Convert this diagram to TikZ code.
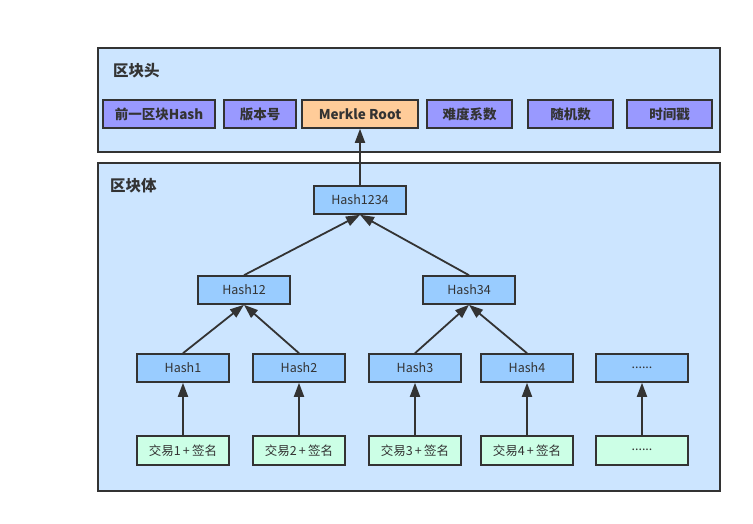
\documentclass[tikz,border=0pt]{standalone}
\usepackage{fontspec}
\setmainfont{Noto Sans CJK SC}
\usetikzlibrary{arrows.meta}
\definecolor{bgblue}{HTML}{CCE5FF}
\definecolor{hdrpurple}{HTML}{9999FF}
\definecolor{rootorange}{HTML}{FFCC99}
\definecolor{hashblue}{HTML}{99CCFF}
\definecolor{txgreen}{HTML}{CCFFE6}
\definecolor{edge}{HTML}{333333}
\tikzset{
  container/.style={draw=edge, line width=1.6pt, fill=bgblue, inner sep=0pt},
  hbox/.style={draw=edge, line width=1.6pt, fill=hdrpurple, inner sep=0pt, minimum height=28pt, font=\fontsize{13.5}{15}\selectfont\bfseries, text=edge},
  hashbox/.style={draw=edge, line width=1.6pt, fill=hashblue, inner sep=0pt, minimum width=92pt, minimum height=28pt, font=\fontsize{12.5}{14}\selectfont, text=edge},
  txbox/.style={draw=edge, line width=1.6pt, fill=txgreen, inner sep=0pt, minimum width=92pt, minimum height=29pt, font=\fontsize{12.5}{14}\selectfont, text=edge},
  title/.style={font=\fontsize{15.5}{18}\selectfont\bfseries, text=edge, anchor=west, inner sep=0pt},
  conn/.style={draw=edge, line width=1.8pt, -{Triangle[length=14pt,width=10pt]}},
}
\begin{document}
\begin{tikzpicture}[x=1pt,y=-1pt]
\useasboundingbox (0,0) rectangle (753,524);
% containers
\node[container, minimum width=622pt, minimum height=104pt] (head) at (409,100) {};
\node[container, minimum width=622pt, minimum height=328pt] (body) at (409,327) {};
\node[title] (headt) at (113,71) {区块头};
\node[title] (bodyt) at (110,186) {区块体};
% header fields
\node[hbox, minimum width=112pt] (prev) at (159,114) {前一区块Hash};
\node[hbox, minimum width=72pt] (ver) at (260,114) {版本号};
\node[hbox, minimum width=116pt, fill=rootorange] (root) at (360,114) {Merkle Root};
\node[hbox, minimum width=85pt] (diff) at (469.5,114) {难度系数};
\node[hbox, minimum width=85pt] (nonce) at (570.5,114) {随机数};
\node[hbox, minimum width=85pt] (time) at (669.5,114) {时间戳};
% merkle tree
\node[hashbox] (h1234) at (360,200) {Hash1234};
\node[hashbox] (h12) at (244,290) {Hash12};
\node[hashbox] (h34) at (469,290) {Hash34};
\node[hashbox] (h1) at (183,368) {Hash1};
\node[hashbox] (h2) at (299,368) {Hash2};
\node[hashbox] (h3) at (415,368) {Hash3};
\node[hashbox] (h4) at (527,368) {Hash4};
\node[hashbox] (hx) at (642,368) {\raisebox{1pt}{......}};
\node[txbox] (t1) at (183,450.5) {交易1\,+\,签名};
\node[txbox] (t2) at (299,450.5) {交易2\,+\,签名};
\node[txbox] (t3) at (415,450.5) {交易3\,+\,签名};
\node[txbox] (t4) at (527,450.5) {交易4\,+\,签名};
\node[txbox] (tx) at (642,450.5) {\raisebox{1pt}{......}};
% connectors
\foreach \a/\b in {t1/h1,t2/h2,t3/h3,t4/h4,tx/hx}
  \draw[conn] (\a.north) -- (\b.south);
\draw[conn] (h1.north) -- (h12.south);
\draw[conn] (h2.north) -- (h12.south);
\draw[conn] (h3.north) -- (h34.south);
\draw[conn] (h4.north) -- (h34.south);
\draw[conn] (h12.north) -- (h1234.south);
\draw[conn] (h34.north) -- (h1234.south);
\draw[conn] (h1234.north) -- (root.south);
\end{tikzpicture}
\end{document}
